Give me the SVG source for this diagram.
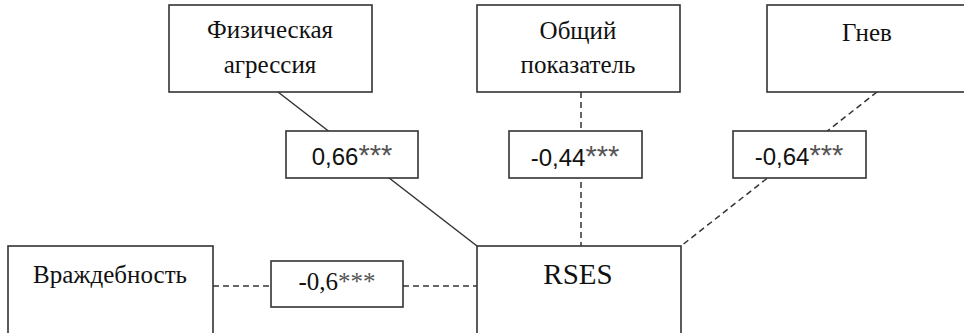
<svg xmlns="http://www.w3.org/2000/svg" width="964" height="333" viewBox="0 0 964 333">
  <style>
    .box { fill: #ffffff; stroke: #333333; stroke-width: 1.6; }
    .lbl { fill: #ffffff; stroke: #333333; stroke-width: 1.6; }
    .link { fill: none; stroke: #333333; stroke-width: 1.5; }
    .dash { stroke-dasharray: 6 4; }
    .name { font-family: "Liberation Serif", "Times New Roman", serif; font-size: 25px; fill: #111111; text-anchor: middle; }
    .big { font-size: 29px; }
    .num { font-family: "Liberation Sans", Arial, sans-serif; font-size: 24px; fill: #111111; text-anchor: middle; }
    .numserif { font-family: "Liberation Serif", "Times New Roman", serif; font-size: 25px; fill: #111111; text-anchor: middle; }
    .star { fill: #555555; }
    .num .star { font-size: 29px; }
  </style>
  <rect width="964" height="333" fill="#ffffff"/>

  <!-- connectors -->
  <g id="connectors">
    <line class="link" x1="278" y1="92" x2="477" y2="246"/>
    <line class="link dash" x1="581" y1="92" x2="581" y2="246"/>
    <line class="link dash" x1="877" y1="92" x2="681" y2="246"/>
    <line class="link dash" x1="213" y1="286" x2="477" y2="286"/>
  </g>

  <!-- variable nodes -->
  <g id="node-physical">
    <rect class="box" x="169" y="5" width="203" height="87"/>
    <text class="name" x="270" y="38">Физическая</text>
    <text class="name" x="270" y="73">агрессия</text>
  </g>
  <g id="node-total">
    <rect class="box" x="477" y="5" width="203" height="87"/>
    <text class="name" x="578" y="39">Общий</text>
    <text class="name" x="578" y="73">показатель</text>
  </g>
  <g id="node-anger">
    <rect class="box" x="767" y="5" width="205" height="87"/>
    <text class="name" x="867" y="41">Гнев</text>
  </g>
  <g id="node-hostility">
    <rect class="box" x="8" y="246" width="205" height="100"/>
    <text class="name" x="110" y="283">Враждебность</text>
  </g>
  <g id="node-rses">
    <rect class="box" x="477" y="246" width="204" height="100"/>
    <text class="name big" x="578" y="284">RSES</text>
  </g>

  <!-- correlation labels -->
  <g id="label-physical">
    <rect class="lbl" x="286" y="131" width="132" height="47"/>
    <text class="num" x="352" y="165">0,66<tspan class="star">***</tspan></text>
  </g>
  <g id="label-total">
    <rect class="lbl" x="509" y="131" width="133" height="47"/>
    <text class="num" x="575" y="166">-0,44<tspan class="star">***</tspan></text>
  </g>
  <g id="label-anger">
    <rect class="lbl" x="733" y="131" width="133" height="47"/>
    <text class="num" x="799" y="165">-0,64<tspan class="star">***</tspan></text>
  </g>
  <g id="label-hostility">
    <rect class="lbl" x="271" y="261" width="132" height="46"/>
    <text class="numserif" x="337" y="290">-0,6<tspan class="star">***</tspan></text>
  </g>
</svg>
